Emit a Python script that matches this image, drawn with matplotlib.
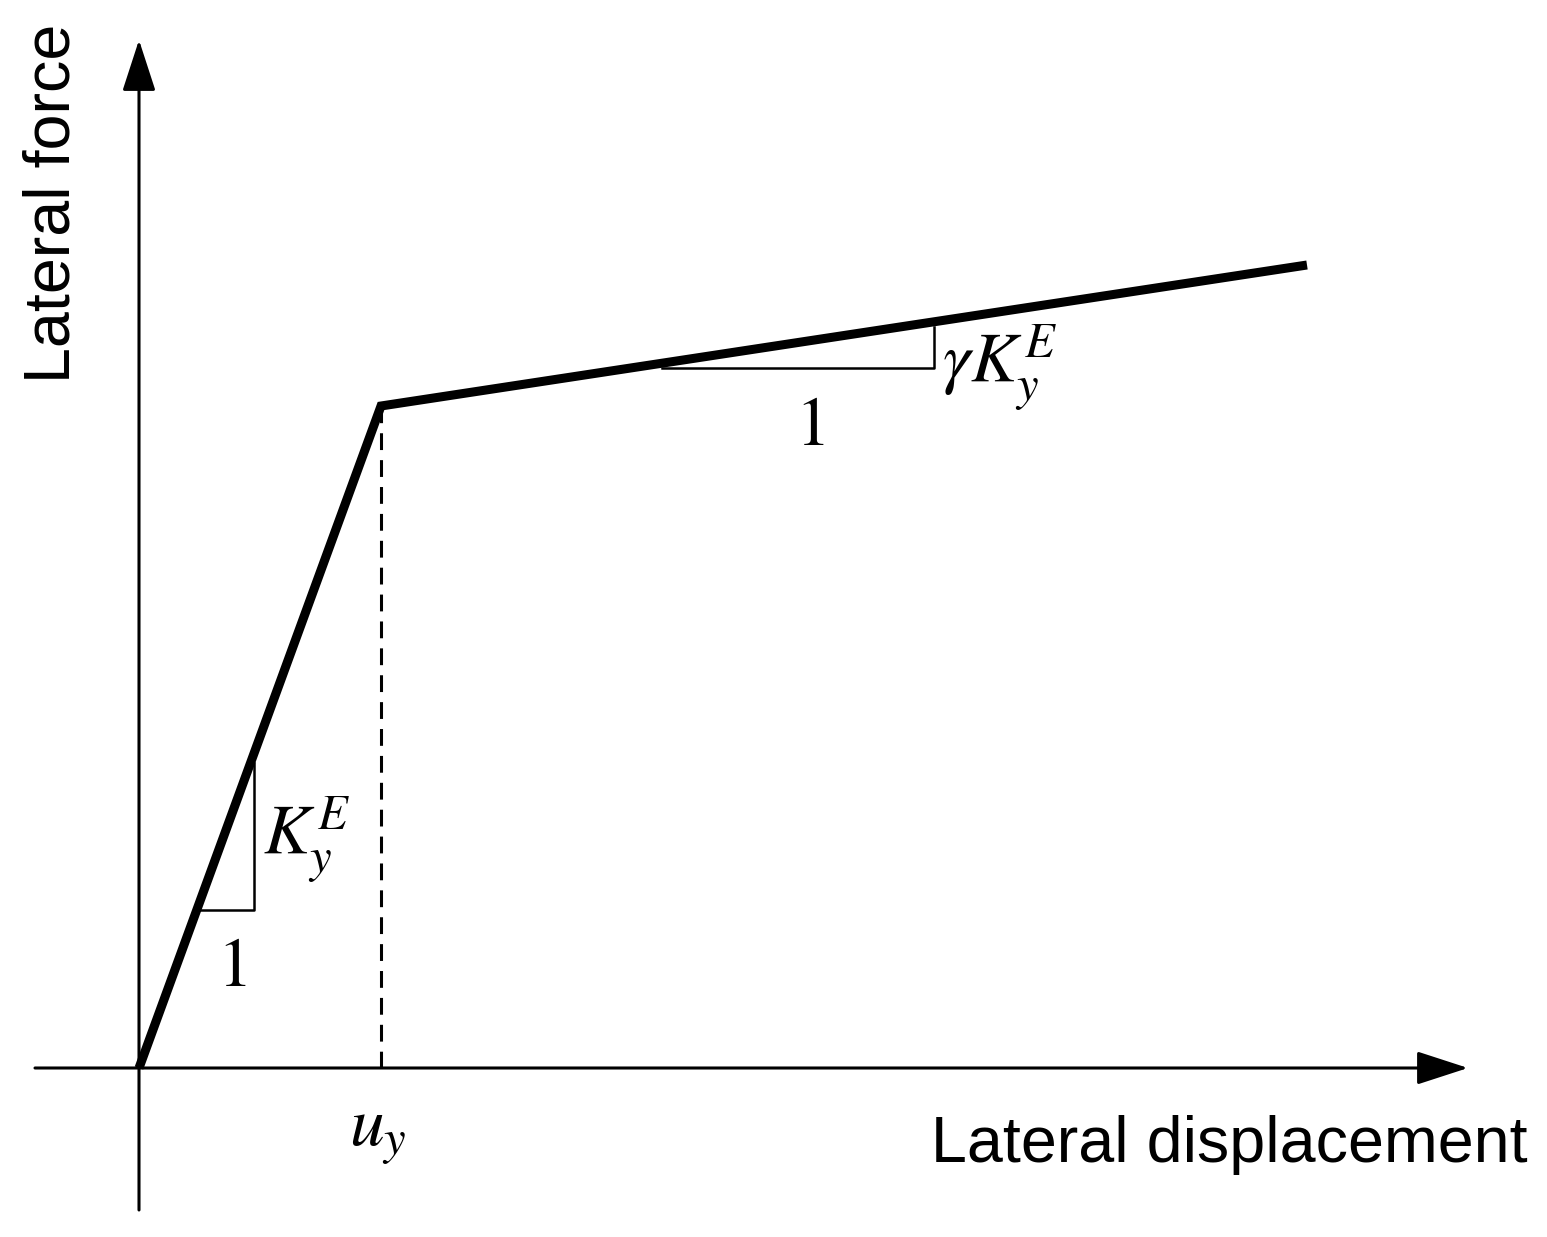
import matplotlib
matplotlib.use("Agg")
import matplotlib.pyplot as plt

# bilinear force-displacement curve (origin, yield point, end of hardening branch)
disp = [0, 242, 1168]
force = [0, 662, 803]

# slope triangles
elastic_tri_x = [61, 115, 115]
elastic_tri_y = [158, 158, 305]
hard_tri_x = [523, 795, 795]
hard_tri_y = [700, 700, 741]

# axis extents
x_axis = [-104, 1329]
y_axis = [-142, 1028]

plt.rcParams["mathtext.fontset"] = "stix"
plt.rcParams["font.family"] = ["Liberation Sans", "DejaVu Sans"]

fig = plt.figure(figsize=(15.47, 12.37), dpi=100)
ax = fig.add_axes([0, 0, 1, 1])
ax.set_xlim(-139, 1408)
ax.set_ylim(-169, 1068)
ax.axis("off")

arrow = dict(arrowstyle="-|>,head_length=0.4,head_width=0.13", mutation_scale=80,
             lw=2.2, color="black", shrinkA=0, shrinkB=0)
ax.annotate("", xy=(x_axis[1], 0), xytext=(x_axis[0], 0), arrowprops=arrow)
ax.annotate("", xy=(0, y_axis[1]), xytext=(0, y_axis[0]), arrowprops=arrow)

ax.plot(disp, force, color="black", lw=6.5, solid_joinstyle="miter", solid_capstyle="butt")
ax.plot([disp[1], disp[1]], [0, force[1]], color="black", lw=2.2, ls=(0, (5.5, 3.3)))

ax.plot(elastic_tri_x, elastic_tri_y, color="black", lw=1.8)
ax.plot(hard_tri_x, hard_tri_y, color="black", lw=1.8)

ax.text(93, 100, "$1$", fontsize=50, ha="center", va="center")
ax.text(124, 228, "$K_y^E$", fontsize=50, ha="left", va="center")
ax.text(671, 641, "$1$", fontsize=50, ha="center", va="center")
ax.text(803, 700, r"$\gamma K_y^E$", fontsize=50, ha="left", va="center")
ax.text(239, -67, "$u_y$", fontsize=50, ha="center", va="center")

ax.text(1389, -77, "Lateral displacement", fontsize=46.5, ha="right", va="center")
ax.text(-86, 865, "Lateral force", fontsize=46.5, ha="center", va="center", rotation=90)

fig.savefig("out.png", dpi=100)
